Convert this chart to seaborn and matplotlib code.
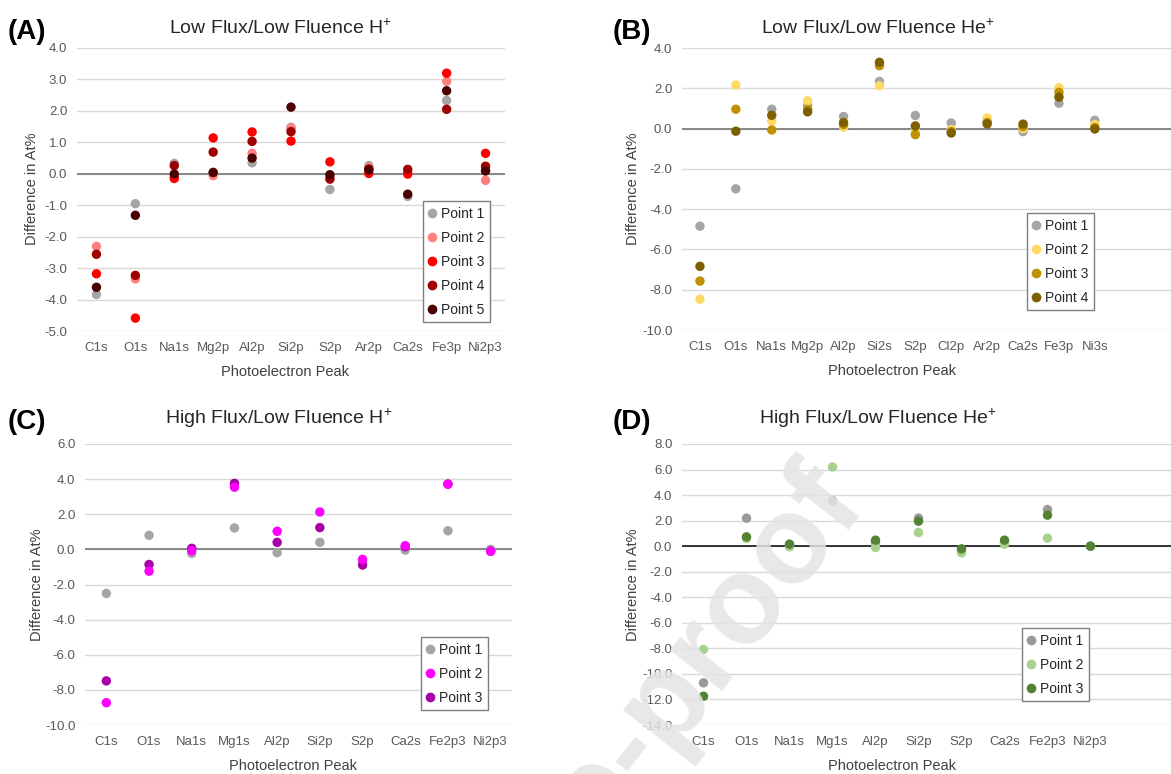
import numpy as np
import pandas as pd
import matplotlib
matplotlib.use("Agg")
import matplotlib.pyplot as plt
from matplotlib.lines import Line2D
import seaborn as sns

# ---------------- data: difference in At% per photoelectron peak ----------------
# (A) Low Flux / Low Fluence H+
A_PEAKS = ["C1s", "O1s", "Na1s", "Mg2p", "Al2p", "Si2p", "S2p", "Ar2p", "Ca2s", "Fe3p", "Ni2p3"]
A_POINT1 = [-3.84, -0.95, 0.33, 0.05, 0.35, 1.48, -0.50, 0.26, -0.72, 2.33, 0.10]
A_POINT2 = [-2.31, -3.34, -0.10, -0.06, 0.65, 1.45, -0.10, 0.20, 0.05, 2.94, -0.21]
A_POINT3 = [-3.18, -4.59, -0.15, 1.14, 1.33, 1.04, 0.38, 0.01, -0.01, 3.20, 0.65]
A_POINT4 = [-2.56, -3.23, 0.26, 0.69, 1.03, 1.34, -0.17, 0.15, 0.14, 2.05, 0.24]
A_POINT5 = [-3.61, -1.32, -0.01, 0.04, 0.50, 2.12, -0.03, 0.12, -0.65, 2.64, 0.09]

# (B) Low Flux / Low Fluence He+
B_PEAKS = ["C1s", "O1s", "Na1s", "Mg2p", "Al2p", "Si2s", "S2p", "Cl2p", "Ar2p", "Ca2s", "Fe3p", "Ni3s"]
B_POINT1 = [-4.85, -2.99, 0.96, 1.16, 0.60, 2.34, 0.65, 0.28, 0.35, -0.15, 1.26, 0.41]
B_POINT2 = [-8.47, 2.16, 0.37, 1.38, 0.07, 2.13, -0.10, -0.05, 0.53, 0.00, 2.03, 0.20]
B_POINT3 = [-7.57, 0.96, -0.07, 0.95, 0.20, 3.12, -0.30, -0.15, 0.30, 0.10, 1.80, 0.05]
B_POINT4 = [-6.84, -0.13, 0.66, 0.83, 0.30, 3.29, 0.13, -0.22, 0.23, 0.22, 1.56, -0.02]

# (C) High Flux / Low Fluence H+
C_PEAKS = ["C1s", "O1s", "Na1s", "Mg1s", "Al2p", "Si2p", "S2p", "Ca2s", "Fe2p3", "Ni2p3"]
C_POINT1 = [-2.51, 0.80, -0.23, 1.22, -0.19, 0.40, -0.70, -0.04, 1.06, 0.00]
C_POINT2 = [-8.73, -1.24, -0.08, 3.54, 1.03, 2.13, -0.57, 0.21, 3.71, -0.11]
C_POINT3 = [-7.49, -0.86, 0.06, 3.76, 0.40, 1.24, -0.89, 0.15, 3.72, -0.10]

# (D) High Flux / Low Fluence He+
D_PEAKS = ["C1s", "O1s", "Na1s", "Mg1s", "Al2p", "Si2p", "S2p", "Ca2s", "Fe2p3", "Ni2p3"]
D_POINT1 = [-10.70, 2.19, 0.10, 3.55, 0.30, 2.20, -0.35, 0.30, 2.87, 0.00]
D_POINT2 = [-8.09, 0.60, -0.05, 6.20, -0.10, 1.07, -0.52, 0.16, 0.63, 0.00]
D_POINT3 = [-11.75, 0.73, 0.16, np.nan, 0.47, 1.96, -0.21, 0.47, 2.43, 0.00]

# ---------------- style ----------------
plt.rcParams["font.family"] = ["Liberation Sans", "DejaVu Sans"]
plt.rcParams["axes.unicode_minus"] = False
plt.rcParams["mathtext.fontset"] = "custom"
plt.rcParams["mathtext.rm"] = "Liberation Sans"
plt.rcParams["mathtext.it"] = "Liberation Sans:italic"
plt.rcParams["mathtext.bf"] = "Liberation Sans:bold"

W, H = 1171, 774
fig = plt.figure(figsize=(W / 100, H / 100), dpi=100)


def px_box(left, top, right, bottom):
    return [left / W, 1 - bottom / H, (right - left) / W, (bottom - top) / H]


def long_form(peaks, series, draw_order):
    rows = []
    for name in draw_order:
        for peak, val in zip(peaks, series[name]):
            rows.append({"peak": peak, "diff": val, "point": name})
    return pd.DataFrame(rows)


def panel(box, peaks, series, colors, draw_order, ylim, ystep, xright,
          title, title_xy, tag, tag_xy, ylab_x, ylab_y, xlab_x, xlab_y,
          legend_xy, zero_color):
    ax = fig.add_axes(px_box(*box))
    names = list(series.keys())
    df = long_form(peaks, series, draw_order)
    sns.scatterplot(data=df, x="peak", y="diff", hue="point", hue_order=names,
                    palette=dict(zip(names, colors)), s=46, linewidth=0,
                    legend=False, ax=ax, zorder=3)
    ax.set_xticks(range(len(peaks)))
    ax.set_xticklabels(peaks)
    ax.set_xlim(-0.5, xright)
    ax.set_ylim(*ylim)
    ax.set_yticks(np.arange(ylim[0], ylim[1] + 0.001, ystep))
    ax.yaxis.set_major_formatter(matplotlib.ticker.FormatStrFormatter("%.1f"))
    ax.tick_params(length=0, labelsize=9.5, colors="#595959", pad=7)
    ax.tick_params(axis="x", pad=8)
    for sp in ax.spines.values():
        sp.set_visible(False)
    ax.yaxis.grid(True, color="#d9d9d9", lw=1.0, zorder=0)
    ax.set_axisbelow(True)
    ax.axhline(0, color=zero_color, lw=1.3, zorder=2)

    # axis titles
    bw = box[2] - box[0]
    bh = box[3] - box[1]
    ax.set_xlabel("Photoelectron Peak", fontsize=10.5, color="#404040")
    ax.set_ylabel("Difference in At%", fontsize=10.5, color="#404040")
    ax.xaxis.set_label_coords((xlab_x - box[0]) / bw, (box[3] - xlab_y) / bh)
    ax.yaxis.set_label_coords((ylab_x - box[0]) / bw, (box[3] - ylab_y) / bh)
    ax.xaxis.label.set_va("center")
    ax.yaxis.label.set_va("center")

    # chart title and panel tag
    fig.text(title_xy[0] / W, 1 - title_xy[1] / H, title, fontsize=14,
             color="#262626", ha="center", va="center")
    fig.text(tag_xy[0] / W, 1 - tag_xy[1] / H, tag, fontsize=20,
             fontweight="bold", color="#000000", ha="left", va="center")

    handles = [Line2D([], [], marker="o", ls="", markersize=7, markeredgewidth=0,
                      color=c) for c in colors]
    leg = ax.legend(handles, names, loc="upper left",
                    bbox_to_anchor=(legend_xy[0] / W, 1 - legend_xy[1] / H),
                    bbox_transform=fig.transFigure, frameon=True, fancybox=False,
                    edgecolor="#7f7f7f", framealpha=1, fontsize=10,
                    handlelength=0.5, handletextpad=0.4, labelspacing=0.72,
                    borderpad=0.4, borderaxespad=0)
    leg.get_frame().set_linewidth(1.0)
    for t in leg.get_texts():
        t.set_color("#262626")
    return ax


GRAY = "#a5a5a5"

panel((77, 48, 505, 331), A_PEAKS,
      {"Point 1": A_POINT1, "Point 2": A_POINT2, "Point 3": A_POINT3,
       "Point 4": A_POINT4, "Point 5": A_POINT5},
      [GRAY, "#ff8080", "#ff0000", "#a00000", "#4a0000"],
      ["Point 1", "Point 2", "Point 3", "Point 4", "Point 5"],
      (-5, 4), 1, 10.5,
      r"Low Flux/Low Fluence H$^{+}$", (280, 28), "(A)", (8, 32),
      32, 189, 285, 372, (423, 201), "#7f7f7f")

panel((682, 48, 1171, 330), B_PEAKS,
      {"Point 1": B_POINT1, "Point 2": B_POINT2, "Point 3": B_POINT3,
       "Point 4": B_POINT4},
      [GRAY, "#ffd966", "#bf9000", "#7f6000"],
      ["Point 1", "Point 2", "Point 3", "Point 4"],
      (-10, 4), 2, -0.5 + 489 / 35.9,
      r"Low Flux/Low Fluence He$^{+}$", (878, 28), "(B)", (613, 32),
      633, 189, 892, 371, (1027, 213), "#7f7f7f")

panel((85, 444, 512, 725), C_PEAKS,
      {"Point 1": C_POINT1, "Point 2": C_POINT2, "Point 3": C_POINT3},
      [GRAY, "#ff00ff", "#a800a8"],
      ["Point 1", "Point 3", "Point 2"],
      (-10, 6), 2, 9.5,
      r"High Flux/Low Fluence H$^{+}$", (279, 418), "(C)", (8, 422),
      37, 585, 293, 766, (421, 637), "#7f7f7f")

panel((682, 444, 1171, 725), D_PEAKS,
      {"Point 1": D_POINT1, "Point 2": D_POINT2, "Point 3": D_POINT3},
      ["#9a9a9a", "#a9d18e", "#548235"],
      ["Point 1", "Point 2", "Point 3"],
      (-14, 8), 2, -0.5 + 489 / 43.0,
      r"High Flux/Low Fluence He$^{+}$", (878, 418), "(D)", (613, 422),
      633, 585, 892, 766, (1022, 628), "#262626")

# journal watermark over the lower part of the figure
fig.text(842 / W, 1 - 486 / H, "Journal Pre-proof", rotation=52,
         rotation_mode="anchor", ha="right", va="center", fontsize=90,
         fontweight="bold", color="#e4e4e4", alpha=0.85, zorder=10)

fig.savefig("out.png", dpi=100)
